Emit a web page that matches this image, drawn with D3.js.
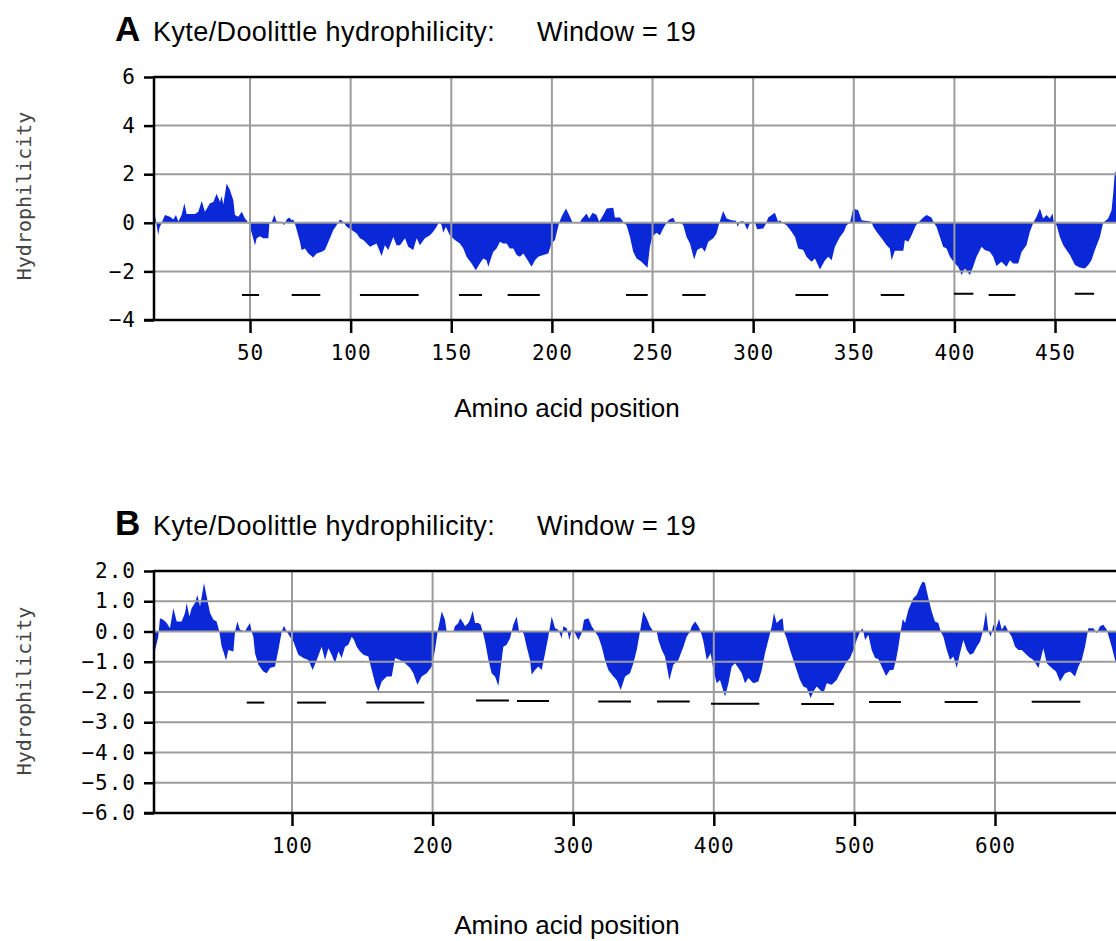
<!DOCTYPE html>
<html>
<head>
<meta charset="utf-8">
<script src="https://cdn.jsdelivr.net/npm/d3@7"></script>
<style>
  body { margin: 0; background: #fff; }
  svg { display: block; }
</style>
</head>
<body>
<script>
var width = 1116;
var height = 941;

// hydrophilicity profile, panel A: [amino acid position, value]
var profileA = [
  [1,-1.9],[2,0.6],[3,0.2],[4.4,-0.5],[5,-0.2],[6.1,0],[7.7,0.32],[10.2,0.25],[11.9,0.14],[13.2,0.32],[14.4,0.05],[16,0.32],[17.4,0.8],[18.5,0.36],[22.7,0.36],[24.3,0.45],[26,0.9],[27.6,0.45],[30.1,0.8],[31.8,0.86],[33.4,1.2],[35.1,0.86],[35.9,1.1],[36.7,0.75],[38.4,1.62],[40,1.35],[41.7,0.93],[42.5,0.32],[44.2,0.25],[45.9,0.45],[47.5,0.18],[49.2,0],
  [50,-0.16],[52.5,-0.92],[53.3,-0.64],[55,-0.55],[56.6,-0.64],[59.1,-0.64],[59.6,-0.03],[60.7,0],[62.1,0.32],[63.2,0.04],[65.7,0.04],[66.9,-0.1],[68.2,0.14],[69.5,0.22],[70.7,0.11],[71.5,0.14],[72.3,-0.03],[73.2,-0.3],[74.8,-0.78],[75.6,-1.12],[77.3,-1.06],[79,-1.26],[81.4,-1.43],[83.1,-1.26],[85.6,-1.19],[87.2,-1.12],[89.7,-0.64],[91.4,-0.3],[93,-0.1],[94.7,0.14],[96.3,0.04],[98,-0.16],
  [100.5,-0.3],[103,-0.44],[104.6,-0.64],[106.3,-0.71],[109.6,-0.99],[112.9,-0.85],[115.4,-1.37],[117,-0.92],[118.7,-1.12],[121.2,-0.58],[122.8,-0.92],[124.5,-0.92],[127,-0.64],[128.6,-0.99],[131.1,-1.12],[132.8,-0.64],[134.4,-0.92],[136.9,-0.64],[139.4,-0.51],[141,-0.37],[142.7,-0.16],[144,0.04],[145.2,-0.1],[146,-0.41],[147.3,-0.16],[149.3,-0.51],[151.8,-0.71],
  [154.3,-0.85],[156,-1.06],[157.6,-1.4],[160.1,-1.67],[162.2,-1.95],[164.2,-1.67],[165.9,-1.47],[167.5,-1.54],[168.4,-1.81],[170,-1.4],[170.9,-1.19],[172.5,-1.06],[174.2,-0.78],[175.8,-0.85],[177.5,-0.85],[179.1,-1.06],[180.8,-1.06],[182.5,-1.33],[184.1,-1.4],[185.8,-1.26],[187.4,-1.47],[189.9,-1.81],[191.6,-1.54],[193.2,-1.4],[195.7,-1.33],[198.2,-1.26],[199.8,-0.85],
  [201.5,-0.71],[202.7,-0.3],[203.6,0],[204.8,0.25],[207,0.59],[209,0.25],[210.3,0],[213.9,0],[214.7,0.14],[217.2,0.38],[218.5,0.18],[220.2,0.41],[222.2,0.32],[223.5,0.04],[225.5,0.32],[227.2,0.59],[230.5,0.62],[231.3,0.22],[233.8,0.22],[235.8,0],[237.1,-0.1],[238.8,-0.58],[240.4,-1.19],[242.1,-1.47],[244.5,-1.6],[247.5,-1.85],[248.7,-0.99],
  [250,-0.55],[252,-0.41],[253.7,-0.51],[255.3,-0.23],[257,0],[258.3,0.14],[260.3,0.21],[261.6,-0.03],[263.6,0.03],[265.3,-0.1],[266.9,-0.58],[268.6,-0.85],[270.7,-1.51],[272.2,-1.12],[274.4,-1.02],[276,-1.19],[277.7,-0.78],[280.2,-0.64],[281.8,-0.44],[283.1,-0.03],[285.1,0.49],[286.8,0.18],[289.3,0.11],[291.4,0.08],[292.3,-0.16],[293.4,0.04],[295.1,0.07],[297.1,-0.3],[298.4,0],
  [300.9,0],[302,-0.27],[305,-0.23],[306.3,-0.05],[307.5,0.22],[310.8,0.41],[312.4,0.04],[313.3,0.11],[314.6,0],[316.6,-0.1],[319.1,-0.37],[320.8,-0.58],[322.4,-1.06],[324.9,-1.12],[326.5,-1.4],[329,-1.6],[330.7,-1.47],[333.2,-1.92],[335.7,-1.54],[337.3,-1.4],[339,-1.54],[340.6,-0.99],[343.1,-0.58],[345.1,-0.37],[346.4,-0.1],[348.1,0],
  [349.7,0.59],[352.2,0.52],[353.9,0.11],[356.4,0.07],[358.8,0.04],[359.7,-0.16],[361.3,-0.37],[363.8,-0.64],[366.3,-0.92],[367.9,-1.06],[368.8,-1.54],[370.4,-1.15],[374.6,-1.15],[375.4,-0.71],[377.1,-0.78],[378.7,-0.51],[380.9,-0.1],[382,0],[384.5,0.22],[386.2,0.32],[388.6,0.22],[389.8,0],[391.1,-0.16],[392.8,-0.58],[394.4,-0.99],[396.1,-1.06],[397.8,-1.4],
  [400.2,-1.67],[401.9,-1.81],[403.6,-2.15],[405.2,-1.88],[407.7,-2.15],[409.3,-1.81],[411,-1.4],[413.5,-0.99],[415.1,-1.12],[417.6,-1.19],[419.3,-1.4],[420.9,-1.78],[423.4,-1.6],[425.9,-1.81],[427.6,-1.54],[429.2,-1.67],[431.7,-1.67],[433.4,-1.19],[435.8,-0.92],[437.5,-0.37],[439.2,0],[440.8,0.25],[442.5,0.59],[444.1,0.18],[445.8,0.32],[447.4,0.18],[448.8,0.38],[449.4,0],
  [450.8,-0.1],[452.4,-0.58],[454.1,-0.92],[455.7,-1.12],[457.4,-1.33],[459.9,-1.74],[462.3,-1.84],[464.8,-1.88],[466.5,-1.74],[468.1,-1.54],[469.8,-1.12],[472.3,-0.58],[473.9,0],[476.4,0.18],[478.1,0.52],[478.9,1.21],[479.7,2.03],[482,2.4]
];

// hydrophilicity profile, panel B
var profileB = [
  [1.4,-1.82],[2.6,-0.61],[4.9,-0.17],[6.1,0.44],[8.5,0.39],[10.9,0.28],[13.2,0.11],[15.6,0.77],[18,0.33],[21.5,0.33],[23.9,0.61],[25.1,0.94],[27,0.5],[28.6,0.77],[31,0.94],[32.7,1.21],[34.6,0.83],[37.4,1.6],[39.3,1.16],[41.7,0.61],[44.1,0.39],[46.4,0.33],[48.3,0],
  [50,-0.5],[51.2,-0.66],[53.1,-0.96],[54.7,-0.61],[58.3,-0.66],[59.5,0],[61.1,0.33],[63,0.06],[66.6,0],[67.8,0.11],[70.1,0.28],[71.3,0],[72.5,-0.17],[73.7,-0.72],[76.1,-1.1],[79.6,-1.32],[82,-1.38],[84.4,-1.21],[87.9,-1.16],[90.3,-0.61],[92.7,0],[94.3,0.19],[96.2,0],[98.6,-0.17],
  [101,-0.33],[104.5,-0.77],[108.1,-0.88],[111.6,-0.94],[114.7,-1.27],[117.6,-0.94],[121.1,-0.5],[123.5,-0.94],[125.9,-0.55],[128.2,-0.77],[130.6,-1.05],[133,-0.66],[135.3,-0.88],[137.7,-0.5],[140.1,-0.44],[142.5,-0.17],[144.1,-0.28],[146,-0.5],[148.4,-0.66],
  [150.8,-0.77],[154.3,-0.83],[156.7,-1.27],[159.1,-1.71],[161.4,-1.98],[163.8,-1.65],[167.4,-1.49],[170.9,-1.49],[173.3,-0.88],[176.8,-0.94],[180.4,-1.05],[184,-1.21],[186.3,-1.38],[189.2,-1.76],[192.2,-1.49],[195.8,-1.38],[199.4,-1.16],
  [201.7,-0.61],[203.6,0],[205.3,0.39],[206.5,0.66],[208.8,0.39],[210,0],[214.8,0],[215.9,0.17],[218.3,0.28],[219.5,0.44],[221.9,0.28],[223.1,0.17],[225.4,0.28],[226.6,0.39],[228.5,0.69],[230.2,0.28],[232.5,0.28],[234.2,0.22],[235.6,0],[237.3,-0.33],[239.7,-0.94],[242,-1.38],[244.4,-1.49],[246.8,-1.8],[249.1,-0.94],
  [250.3,-0.5],[252.7,-0.44],[255.1,-0.22],[257.4,0.22],[259.8,0.5],[261.7,-0.06],[263.4,0.06],[265,-0.11],[266.9,-0.5],[269.3,-0.94],[270.5,-1.43],[272.8,-1.27],[275.2,-1.16],[277.6,-1.27],[280,-0.72],[282.3,-0.17],[284.7,0.5],[287.1,0.11],[289.4,0.06],[291.8,-0.22],[293,0.17],[295.4,0.11],[297.3,-0.28],[298.9,0.06],
  [301.3,-0.06],[303.7,-0.28],[306,-0.06],[307.7,0.39],[310.8,0.44],[313.2,0.17],[315.5,0],[317.9,-0.17],[320.3,-0.5],[322.6,-0.94],[325,-1.27],[328.6,-1.49],[330.9,-1.6],[333.8,-1.93],[336.9,-1.49],[340.4,-1.38],[342.8,-1.05],[345.2,-0.61],[347.5,0],[349.9,0.66],
  [352.3,0.44],[354.6,0.17],[357,0],[359.4,0],[360.6,-0.28],[363,-0.61],[365.3,-0.83],[368.4,-1.6],[371.2,-1.1],[374.8,-0.94],[378.4,-0.5],[380.7,-0.17],[383.1,0],[384.3,0.17],[386.7,0.33],[389,0.17],[390.7,0],[392.6,-0.33],[395,-0.94],[397.8,-0.72],[399.7,-1.27],
  [402.1,-1.71],[404.4,-1.6],[408,-2.15],[410.4,-1.71],[412.7,-1.16],[415.1,-1.05],[417.5,-1.21],[419.9,-1.38],[422.2,-1.71],[424.6,-1.54],[428.1,-1.71],[431.7,-1.65],[434.1,-1.27],[436.4,-0.72],[438.8,-0.28],[441.2,0.17],[442.8,0.61],[444.7,0.28],[447.1,0.39],[449,0.44],[449.9,0],
  [451.8,-0.22],[454.2,-0.61],[456.6,-0.94],[458.9,-1.27],[461.3,-1.6],[463.7,-1.82],[466.1,-1.87],[468.9,-2.2],[470.8,-1.98],[473.2,-1.82],[475.6,-1.93],[477.9,-2.04],[480.3,-1.71],[483.9,-1.76],[487.4,-1.6],[489.8,-1.38],[492.1,-1.21],[494.5,-0.99],[496.9,-0.88],[499.3,-0.61],
  [501.6,-0.28],[504,0],[505.9,0.11],[507.6,-0.28],[509.9,-0.11],[512.3,-0.61],[514.7,-0.88],[517,-0.91],[519.4,-1.16],[522.5,-1.47],[525.3,-1.27],[527.7,-1.27],[529.6,-0.94],[531.3,-0.5],[532.9,0],[534.4,0.41],[536,0.28],[538.4,0.72],[541.9,1.1],[544.3,1.21],[546.7,1.49],[548.6,1.65],
  [550.2,1.6],[552.6,1.1],[555,0.66],[557.3,0.33],[559.7,0.28],[561.4,0],[563.3,-0.17],[565.7,-0.61],[568,-0.94],[570.4,-0.83],[572.8,-1.21],[575.1,-0.72],[577.5,-0.28],[579.9,-0.61],[582.2,-0.77],[584.6,-0.72],[587,-0.5],[589.4,-0.33],[591.3,0],[593.6,0.66],[595.3,0],[597,-0.17],[598.8,0.22],
  [600.7,0.11],[602.9,0.41],[604.8,0.06],[607.1,0.22],[609.5,0],[611.9,-0.17],[614.3,-0.5],[616.6,-0.61],[619,-0.61],[621.4,-0.72],[623.7,-0.83],[627.3,-0.94],[630.9,-1.21],[634.4,-0.55],[636.8,-1.05],[640.3,-1.21],[643.4,-1.32],[646.3,-1.65],[649.8,-1.38],
  [653.4,-1.32],[656.9,-1.49],[659.3,-1.16],[661.7,-0.94],[664,-0.5],[666.4,0.11],[670,0.11],[672.3,-0.06],[674.7,0.17],[677.1,0.22],[679.5,0.06],[683,-0.5],[685.4,-0.94],[688,-1.2]
];

// predicted segments drawn as short bars: [start, end, level]
var segmentsA = [
  [46,54.5,-2.97],[70.7,84.9,-2.97],[104.6,133.8,-2.97],[153.8,165.3,-2.97],[178,194,-2.97],[236.8,247.6,-2.97],
  [264.8,276.4,-2.97],[321,337.3,-2.97],[363.4,375.1,-2.97],[399.8,409.4,-2.92],[417,430.3,-2.97],[459.8,469.4,-2.92]
];
var segmentsB = [
  [67.8,80.3,-2.35],[103.6,124.2,-2.35],[152.8,194.1,-2.35],[230.9,254.3,-2.28],[260,282.8,-2.3],[317.8,341.1,-2.31],
  [359.6,382.9,-2.31],[398,432.4,-2.39],[462.2,485.5,-2.4],[510.4,533.1,-2.33],[564.2,587.7,-2.33],[626.1,660.7,-2.32]
];

var xTicksA = [50, 100, 150, 200, 250, 300, 350, 400, 450];
var yTicksA = [-4, -2, 0, 2, 4, 6];
var xTicksB = [100, 200, 300, 400, 500, 600];
var yTicksB = [-6, -5, -4, -3, -2, -1, 0, 1, 2];

var fillColor = "#0b28d8";
var gridColor = "#9c9c9c";
var monoFont = "'DejaVu Sans Mono', monospace";
var sansFont = "'Liberation Sans', Arial, Helvetica, sans-serif";

var svg = d3.select("body")
  .append("svg")
  .attr("width", width)
  .attr("height", height);

function drawPanel(cfg) {
  var left = 154, right = width + 10;
  var x = d3.scaleLinear().domain(cfg.xDomain).range([cfg.x0, cfg.x0 + (cfg.xDomain[1] - cfg.xDomain[0]) * cfg.pxPerUnit]);
  var y = d3.scaleLinear().domain(cfg.yDomain).range([cfg.bottom, cfg.top]);

  var g = svg.append("g");

  // title
  g.append("text")
    .attr("x", 115).attr("y", cfg.titleY)
    .attr("font-family", sansFont).attr("font-weight", "bold").attr("font-size", 35)
    .text(cfg.letter);
  g.append("text")
    .attr("x", 153).attr("y", cfg.titleY)
    .attr("font-family", sansFont).attr("font-size", 27).attr("letter-spacing", 0.4)
    .text("Kyte/Doolittle hydrophilicity:");
  g.append("text")
    .attr("x", 537).attr("y", cfg.titleY)
    .attr("font-family", sansFont).attr("font-size", 27).attr("letter-spacing", 0.2)
    .text("Window = 19");

  var clipId = "clip" + cfg.letter;
  g.append("clipPath").attr("id", clipId)
    .append("rect")
    .attr("x", left).attr("y", cfg.top)
    .attr("width", right - left).attr("height", cfg.bottom - cfg.top);

  var area = d3.area()
    .x(function(d) { return x(d[0]); })
    .y0(y(0))
    .y1(function(d) { return y(d[1]); });

  g.append("path")
    .datum(cfg.profile)
    .attr("clip-path", "url(#" + clipId + ")")
    .attr("fill", fillColor)
    .attr("d", area);

  // grid on top of the fill
  g.append("g").selectAll("line")
    .data(cfg.yTicks.filter(function(t) { return t > cfg.yDomain[0] && t < cfg.yDomain[1]; }))
    .enter().append("line")
    .attr("x1", left).attr("x2", right)
    .attr("y1", function(d) { return y(d); }).attr("y2", function(d) { return y(d); })
    .attr("stroke", gridColor).attr("stroke-width", 2);

  g.append("g").selectAll("line")
    .data(cfg.xTicks)
    .enter().append("line")
    .attr("x1", function(d) { return x(d); }).attr("x2", function(d) { return x(d); })
    .attr("y1", cfg.top).attr("y2", cfg.bottom)
    .attr("stroke", gridColor).attr("stroke-width", 2);

  // segment bars
  g.append("g").selectAll("line")
    .data(cfg.segments)
    .enter().append("line")
    .attr("x1", function(d) { return x(d[0]); }).attr("x2", function(d) { return x(d[1]); })
    .attr("y1", function(d) { return y(d[2]); }).attr("y2", function(d) { return y(d[2]); })
    .attr("stroke", "#000").attr("stroke-width", 2);

  // top frame
  g.append("line")
    .attr("x1", left).attr("x2", right)
    .attr("y1", cfg.top).attr("y2", cfg.top)
    .attr("stroke", "#000").attr("stroke-width", 2.5);

  var yAxis = g.append("g")
    .attr("transform", "translate(" + left + ",0)")
    .call(d3.axisLeft(y).tickValues(cfg.yTicks).tickFormat(cfg.yFormat).tickSize(10).tickSizeOuter(0).tickPadding(8));

  var xAxis = g.append("g")
    .attr("transform", "translate(0," + cfg.bottom + ")")
    .call(d3.axisBottom(x).tickValues(cfg.xTicks).tickFormat(d3.format("d")).tickSize(13).tickSizeOuter(0).tickPadding(12));

  [yAxis, xAxis].forEach(function(ax) {
    ax.select(".domain").remove();
    ax.selectAll(".tick line").attr("stroke", "#000").attr("stroke-width", 2.5);
    ax.selectAll("text")
      .attr("font-family", monoFont)
      .attr("font-size", 21)
      .attr("letter-spacing", 1)
      .attr("fill", "#000");
  });

  g.append("line")
    .attr("x1", left).attr("x2", left)
    .attr("y1", cfg.top - 1).attr("y2", cfg.bottom + 1)
    .attr("stroke", "#000").attr("stroke-width", 2.5);
  g.append("line")
    .attr("x1", left - 10).attr("x2", right)
    .attr("y1", cfg.bottom).attr("y2", cfg.bottom)
    .attr("stroke", "#000").attr("stroke-width", 2.5);

  // axis titles
  g.append("text")
    .attr("transform", "translate(31," + cfg.yLabelY + ") rotate(-90)")
    .attr("text-anchor", "middle")
    .attr("font-family", monoFont).attr("font-size", 20)
    .attr("fill", "#444")
    .text("Hydrophilicity");

  g.append("text")
    .attr("x", 567).attr("y", cfg.xLabelY)
    .attr("text-anchor", "middle")
    .attr("font-family", sansFont).attr("font-size", 26)
    .text("Amino acid position");
}

drawPanel({
  letter: "A", profile: profileA, segments: segmentsA,
  xTicks: xTicksA, yTicks: yTicksA, yFormat: d3.format("d"),
  xDomain: [0, 500], x0: 149.4, pxPerUnit: 2.0125,
  yDomain: [-4, 6], top: 77, bottom: 320,
  titleY: 41, yLabelY: 196, xLabelY: 417
});

drawPanel({
  letter: "B", profile: profileB, segments: segmentsB,
  xTicks: xTicksB, yTicks: yTicksB, yFormat: d3.format(".1f"),
  xDomain: [0, 700], x0: 151.4, pxPerUnit: 1.406,
  yDomain: [-6, 2], top: 571, bottom: 813,
  titleY: 535, yLabelY: 691, xLabelY: 934
});
</script>
</body>
</html>
